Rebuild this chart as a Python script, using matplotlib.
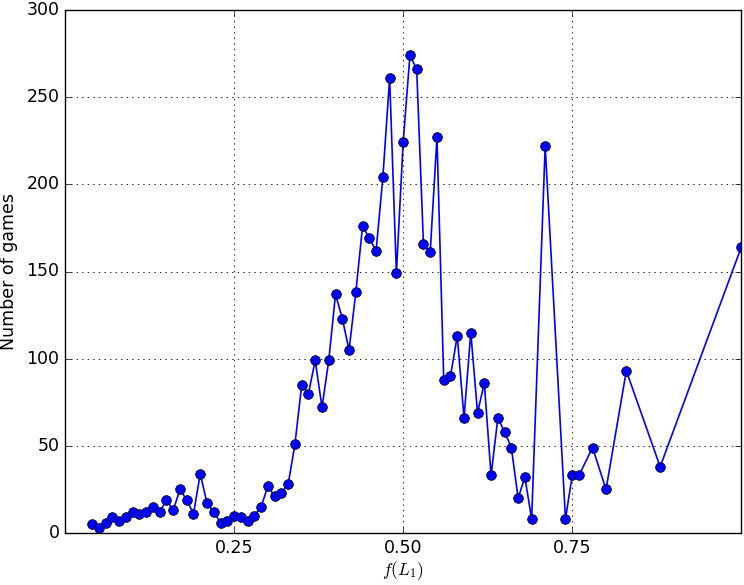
"""Number of games vs f(L1)."""
import matplotlib
matplotlib.use("Agg")
import matplotlib.pyplot as plt

# x positions (fraction) and game counts
f_l1 = [0.04, 0.05, 0.06, 0.07, 0.08, 0.09, 0.10, 0.11, 0.12, 0.13,
        0.14, 0.15, 0.16, 0.17, 0.18, 0.19, 0.20, 0.21, 0.22, 0.23,
        0.24, 0.25, 0.26, 0.27, 0.28, 0.29, 0.30, 0.31, 0.32, 0.33,
        0.34, 0.35, 0.36, 0.37, 0.38, 0.39, 0.40, 0.41, 0.42, 0.43,
        0.44, 0.45, 0.46, 0.47, 0.48, 0.49, 0.50, 0.51, 0.52, 0.53,
        0.54, 0.55, 0.56, 0.57, 0.58, 0.59, 0.60, 0.61, 0.62, 0.63,
        0.64, 0.65, 0.66, 0.67, 0.68, 0.69, 0.71, 0.74, 0.75, 0.76,
        0.78, 0.80, 0.83, 0.88, 1.00]
n_games = [5, 3, 6, 9, 7, 9, 12, 11, 12, 15,
           12, 19, 13, 25, 19, 11, 34, 17, 12, 6,
           7, 10, 9, 7, 10, 15, 27, 21, 23, 28,
           51, 85, 80, 99, 72, 99, 137, 123, 105, 138,
           176, 169, 162, 204, 261, 149, 224, 274, 266, 166,
           161, 227, 88, 90, 113, 66, 115, 69, 86, 33,
           66, 58, 49, 20, 32, 8, 222, 8, 33, 33,
           49, 25, 93, 38, 164]

x_ticks = [0.25, 0.50, 0.75]
x_tick_labels = ["0.25", "0.50", "0.75"]
y_ticks = [0, 50, 100, 150, 200, 250, 300]

plt.style.use("classic")
plt.rcParams["figure.facecolor"] = "white"
plt.rcParams["savefig.facecolor"] = "white"
plt.rcParams["font.size"] = 12.5

fig = plt.figure(figsize=(7.44, 5.85), dpi=100)
ax = fig.add_axes([65 / 744, 52 / 585, 676.3 / 744, 523 / 585])

ax.plot(f_l1, n_games, "-o", color="b", lw=1.2, ms=7,
        mec="k", mew=0.5)

ax.set_xlim(0, 1)
ax.set_ylim(0, 300)
ax.set_xticks(x_ticks)
ax.set_xticklabels(x_tick_labels)
ax.set_yticks(y_ticks)
ax.grid(True, color="k", linestyle=":", lw=0.6)

ax.set_xlabel(r"$f(L_1)$", fontsize=12.5, labelpad=2)
ax.set_ylabel("Number of games", fontsize=12.5, labelpad=6)

fig.savefig("out.png", dpi=100)
